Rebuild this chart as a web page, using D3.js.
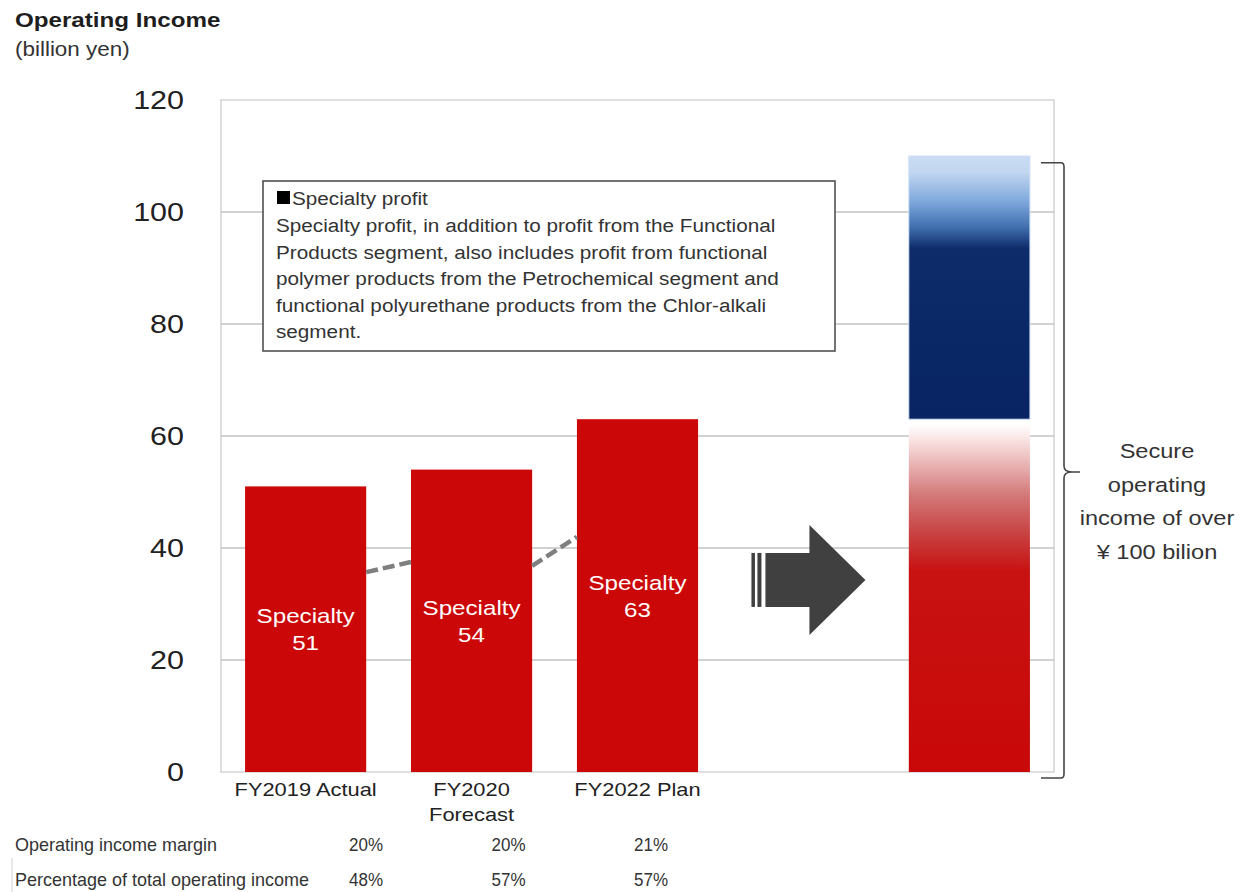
<!DOCTYPE html>
<html>
<head>
<meta charset="utf-8">
<script src="https://cdn.jsdelivr.net/npm/d3@7"></script>
<style>
  html, body { margin: 0; padding: 0; background: #fff; }
  svg { display: block; font-family: "Liberation Sans", Arial, sans-serif; }
</style>
</head>
<body>
<svg id="chart" width="1240" height="892"></svg>
<script>
// ---- data ----
const years = ["FY2019 Actual", "FY2020 Forecast", "FY2022 Plan"];
const yearLabelLines = [["FY2019 Actual"], ["FY2020", "Forecast"], ["FY2022 Plan"]];
const specialty = [51, 54, 63];
const slots = ["FY2019 Actual", "FY2020 Forecast", "FY2022 Plan", "arrow", "target"];
const targetSpecialty = 62;          // "Over 60"
const targetCommodity = [63, 110];   // stacked commodity / ancillary block
const yTicks = [0, 20, 40, 60, 80, 100, 120];
const trendSegments = [
  { from: 0, to: 1, v0: 35.7, v1: 37.5 },
  { from: 1, to: 2, v0: 36.8, v1: 42.0 }
];
const marginRow = ["20%", "20%", "21%"];
const shareRow = ["48%", "57%", "57%"];
const noteLines = [
  "Specialty profit, in addition to profit from the Functional",
  "Products segment, also includes profit from functional",
  "polymer products from the Petrochemical segment and",
  "functional polyurethane products from the Chlor-alkali",
  "segment."
];
const bracketLines = ["Secure", "operating", "income of over", "\u00a5 100 bilion"];

// ---- layout ----
const svg = d3.select("#chart");
const plot = { left: 221, right: 1054, top: 100, bottom: 772 };
const WIDE = 1.15; // horizontal widening applied to the lettering

const x = d3.scaleBand().domain(slots)
  .range([plot.left, plot.right]).paddingInner(0.27).paddingOuter(0.145);
const y = d3.scaleLinear().domain([0, 120]).range([plot.bottom, plot.top]);
const bw = x.bandwidth();

// gradients
const defs = svg.append("defs");
const gBlue = defs.append("linearGradient").attr("id", "gBlue")
  .attr("x1", 0).attr("y1", 0).attr("x2", 0).attr("y2", 1);
[[0, "#cadcf3"], [0.06, "#c2d7f0"], [0.17, "#80a9dd"], [0.27, "#4170b0"], [0.35, "#0e2c6a"], [1, "#082462"]]
  .forEach(([o, c]) => gBlue.append("stop").attr("offset", o).attr("stop-color", c));
const gRed = defs.append("linearGradient").attr("id", "gRed")
  .attr("x1", 0).attr("y1", 0).attr("x2", 0).attr("y2", 1);
[[0, "#ffffff"], [0.06, "#f6d8d8"], [0.2, "#d47a7a"], [0.3, "#c94848"], [0.42, "#c81212"], [1, "#c90808"]]
  .forEach(([o, c]) => gRed.append("stop").attr("offset", o).attr("stop-color", c));

// title
svg.append("text").attr("x", 15).attr("y", 27).attr("font-size", 21).attr("font-weight", "bold")
  .attr("fill", "#1e1e1e").text("Operating Income");
svg.append("text").attr("x", 15).attr("y", 56).attr("font-size", 19.5)
  .attr("fill", "#333").text("(billion yen)");

// plot frame and gridlines
svg.append("rect").attr("x", plot.left).attr("y", plot.top)
  .attr("width", plot.right - plot.left).attr("height", plot.bottom - plot.top)
  .attr("fill", "none").attr("stroke", "#c8c8c8").attr("stroke-width", 1.2);
svg.append("g").selectAll("line").data(yTicks.filter(t => t > 0 && t < 120)).join("line")
  .attr("x1", plot.left).attr("x2", plot.right)
  .attr("y1", d => y(d)).attr("y2", d => y(d))
  .attr("stroke", "#c3c3c3").attr("stroke-width", 1.5);

// y axis labels
const yAxis = d3.axisLeft(y).tickValues(yTicks).tickSize(0).tickPadding(0);
const yg = svg.append("g").attr("transform", `translate(184,0)`).call(yAxis);
yg.select(".domain").remove();
yg.selectAll("text").attr("font-size", 26.5).attr("fill", "#222")
  .attr("font-family", "'Liberation Sans', Arial, sans-serif");

// note box
const box = { x: 263, y: 181, w: 572, h: 170 };
svg.append("rect").attr("x", box.x).attr("y", box.y).attr("width", box.w).attr("height", box.h)
  .attr("fill", "#fff").attr("stroke", "#505050").attr("stroke-width", 1.6);
svg.append("rect").attr("x", 277).attr("y", 191).attr("width", 13).attr("height", 13).attr("fill", "#000");
svg.append("text").attr("x", 292).attr("y", 205).attr("font-size", 18).attr("fill", "#333")
  .text("Specialty profit");
svg.append("g").selectAll("text").data(noteLines).join("text")
  .attr("x", 276).attr("y", (d, i) => 232 + i * 26.6)
  .attr("font-size", 18).attr("fill", "#333").text(d => d);

// specialty bars
const bars = svg.append("g");
bars.selectAll("rect").data(specialty).join("rect")
  .attr("x", (d, i) => x(slots[i])).attr("width", bw)
  .attr("y", d => y(d)).attr("height", d => y(0) - y(d))
  .attr("fill", "#cc0707");

// trend dashes between bars
svg.append("g").selectAll("line").data(trendSegments).join("line")
  .attr("x1", d => x(slots[d.from]) + bw).attr("y1", d => y(d.v0))
  .attr("x2", d => x(slots[d.to])).attr("y2", d => y(d.v1))
  .attr("stroke", "#7f7f7f").attr("stroke-width", 4.5).attr("stroke-dasharray", "12,5");

// bar labels
const barLabels = svg.append("g").attr("fill", "#fff").attr("font-size", 21).attr("text-anchor", "middle");
specialty.forEach((v, i) => {
  const cx = x(slots[i]) + bw / 2, cy = y(v / 2);
  barLabels.append("text").attr("x", cx).attr("y", cy - 6).text("Specialty");
  barLabels.append("text").attr("x", cx).attr("y", cy + 21).text(v);
});

// target stacked bar
const tx = x("target");
svg.append("rect").attr("x", tx).attr("width", bw)
  .attr("y", y(targetSpecialty)).attr("height", y(0) - y(targetSpecialty))
  .attr("fill", "url(#gRed)");
svg.append("rect").attr("x", tx).attr("width", bw)
  .attr("y", y(targetCommodity[1])).attr("height", y(targetCommodity[0]) - y(targetCommodity[1]))
  .attr("fill", "url(#gBlue)").attr("stroke", "#cfe0f6").attr("stroke-width", 1);
const tcx = tx + bw / 2;
const tcy = y(targetSpecialty / 2);
barLabels.append("text").attr("x", tcx).attr("y", tcy - 6).text("Specialty");
barLabels.append("text").attr("x", tcx).attr("y", tcy + 21).text("Over 60");
const ccy = y((targetCommodity[0] + targetCommodity[1]) / 2) - 10;
barLabels.append("text").attr("x", tcx).attr("y", ccy - 6).attr("font-size", 20).text("Commodity/");
barLabels.append("text").attr("x", tcx).attr("y", ccy + 19).attr("font-size", 20).text("Ancillary");

// arrow between plan and target
const ax = x("arrow") + bw / 2 + 5, ay = y(34.3);
const arrow = svg.append("g").attr("fill", "#404040").attr("transform", `translate(${ax},${ay})`);
arrow.append("rect").attr("x", -57).attr("y", -27).attr("width", 3.5).attr("height", 54);
arrow.append("rect").attr("x", -51).attr("y", -27).attr("width", 4).attr("height", 54);
arrow.append("path").attr("d", "M-43,-27 H1 V-55 L57,0 L1,55 V27 H-43 Z");

// bracket
svg.append("path")
  .attr("d", (() => {
    const x0 = 1041, xv = 1064, yt = y(108.8), yb = 778, ym = 472;
    return `M${x0},${yt} L${xv - 3},${yt} Q${xv},${yt} ${xv},${yt + 4} L${xv},${ym - 6} Q${xv},${ym} ${xv + 8},${ym} L${xv + 16},${ym}
            M${xv + 8},${ym} Q${xv},${ym} ${xv},${ym + 6} L${xv},${yb - 4} Q${xv},${yb} ${xv - 3},${yb} L${x0},${yb}`;
  })())
  .attr("fill", "none").attr("stroke", "#444").attr("stroke-width", 1.6);
svg.append("g").selectAll("text").data(bracketLines).join("text")
  .attr("x", 1157).attr("y", (d, i) => 458 + i * 33.5).attr("text-anchor", "middle")
  .attr("font-size", 20.5).attr("fill", "#333").text(d => d);

// x labels
const xl = svg.append("g").attr("font-size", 19).attr("fill", "#222").attr("text-anchor", "middle");
yearLabelLines.forEach((lines, i) => {
  lines.forEach((t, j) => {
    xl.append("text").attr("x", x(years[i]) + bw / 2).attr("y", 796 + j * 24.5).text(t);
  });
});

// widen the lettering of every label drawn so far
svg.selectAll("text").each(function () {
  const w = this.getComputedTextLength();
  d3.select(this).attr("textLength", w * WIDE).attr("lengthAdjust", "spacingAndGlyphs");
});

// table below the chart (condensed lettering)
const col = d3.scalePoint().domain(years).range([366, 651]);
const table = svg.append("g").attr("font-size", 18.5).attr("fill", "#333");
table.append("text").attr("x", 15).attr("y", 851).attr("textLength", 202)
  .attr("lengthAdjust", "spacingAndGlyphs").text("Operating income margin");
table.append("text").attr("x", 15).attr("y", 886).attr("textLength", 294)
  .attr("lengthAdjust", "spacingAndGlyphs").text("Percentage of total operating income");
[marginRow, shareRow].forEach((row, r) => {
  table.append("g").selectAll("text").data(row).join("text")
    .attr("x", (d, i) => col(years[i])).attr("y", 851 + r * 35)
    .attr("text-anchor", "middle").attr("textLength", 34).attr("lengthAdjust", "spacingAndGlyphs")
    .text(d => d);
});
svg.append("line").attr("x1", 12).attr("x2", 12).attr("y1", 858).attr("y2", 892)
  .attr("stroke", "#d0d0d0").attr("stroke-width", 1);
</script>
</body>
</html>
